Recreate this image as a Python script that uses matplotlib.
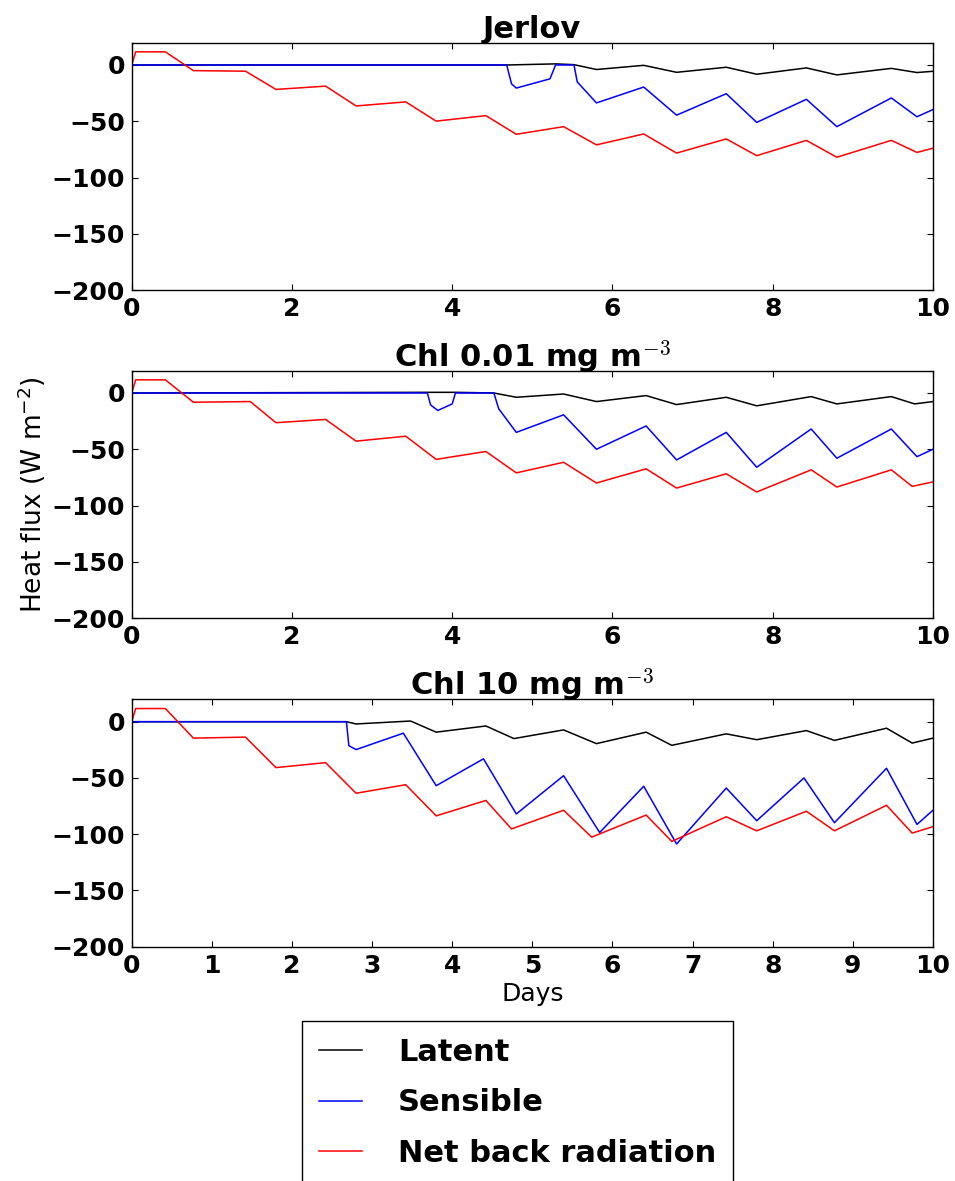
import matplotlib
matplotlib.use('agg')
import matplotlib.pyplot as plt
from matplotlib.lines import Line2D

plt.rcParams['font.family'] = ['DejaVu Sans']
plt.rcParams['mathtext.fontset'] = 'cm'

# ---------------- data ----------------
# Panel 1: Jerlov
jer_lat_day = [0, 4.68, 5.29, 5.52, 5.8, 6.39, 6.8, 7.42, 7.8, 8.42, 8.8, 9.48, 9.8, 10]
jer_lat_val = [0, 0, 1.0, 0.3, -4.0, -0.3, -6.5, -2.0, -8.2, -2.6, -8.8, -3.0, -6.7, -5.6]

jer_sen_day = [0, 4.68, 4.74, 4.8, 5.22, 5.29, 5.52, 5.56, 5.8, 6.39, 6.8, 7.42, 7.8, 8.42, 8.8, 9.48, 9.8, 10]
jer_sen_val = [0, 0, -16.7, -20.5, -12.3, 0, 0, -15.0, -33.7, -19.6, -44.6, -25.5, -51.0, -30.5, -54.8, -29.3, -46.0, -39.6]

jer_net_day = [0, 0.05, 0.42, 0.77, 1.42, 1.8, 2.42, 2.8, 3.42, 3.8, 4.42, 4.8, 5.39, 5.8, 6.39, 6.8, 7.42, 7.8, 8.42, 8.8, 9.48, 9.8, 10]
jer_net_val = [0, 11.7, 11.7, -5.0, -5.5, -21.7, -18.8, -36.4, -32.8, -49.9, -45.0, -61.6, -54.8, -71.0, -61.3, -78.3, -65.7, -80.6, -67.0, -82.0, -67.0, -77.7, -74.0]

# Panel 2: Chl 0.01
c01_lat_day = [0, 3.69, 4.04, 4.52, 4.8, 5.39, 5.8, 6.42, 6.8, 7.42, 7.8, 8.48, 8.8, 9.48, 9.77, 10]
c01_lat_val = [0, 0.6, 0.6, 0, -3.8, -0.9, -7.6, -2.3, -10.3, -3.8, -11.4, -3.2, -9.7, -3.2, -9.7, -7.6]

c01_sen_day = [0, 3.69, 3.73, 3.82, 4.0, 4.04, 4.52, 4.58, 4.8, 5.39, 5.8, 6.42, 6.8, 7.42, 7.8, 8.48, 8.8, 9.48, 9.8, 10]
c01_sen_val = [0, 0, -10.6, -15.5, -9.7, 0, 0, -14.0, -35.0, -19.4, -50.0, -29.3, -59.5, -35.0, -66.0, -32.0, -58.0, -32.0, -56.6, -50.0]

c01_net_day = [0, 0.05, 0.42, 0.77, 1.48, 1.8, 2.42, 2.8, 3.42, 3.8, 4.42, 4.8, 5.39, 5.8, 6.42, 6.8, 7.42, 7.8, 8.48, 8.8, 9.48, 9.74, 10]
c01_net_val = [0, 11.7, 11.7, -8.2, -7.6, -26.4, -23.5, -42.8, -38.4, -59.0, -52.0, -71.0, -61.6, -80.0, -67.4, -84.5, -71.8, -88.0, -68.3, -83.6, -68.3, -83.0, -79.0]

# Panel 3: Chl 10
c10_lat_day = [0, 2.68, 2.8, 3.48, 3.8, 4.42, 4.77, 5.39, 5.8, 6.42, 6.74, 7.42, 7.8, 8.42, 8.77, 9.42, 9.74, 10]
c10_lat_val = [0, 0, -2.0, 0.6, -9.3, -3.8, -15.0, -7.3, -19.5, -9.3, -21.0, -10.8, -16.0, -7.9, -16.6, -5.8, -19.0, -14.6]

c10_sen_day = [0, 2.68, 2.71, 2.8, 3.39, 3.8, 4.39, 4.8, 5.39, 5.84, 6.39, 6.8, 7.42, 7.8, 8.39, 8.77, 9.42, 9.8, 10]
c10_sen_val = [0, 0, -21.3, -24.8, -10.2, -56.9, -33.0, -82.0, -48.0, -98.5, -57.4, -108.7, -59.0, -88.0, -50.0, -89.8, -41.4, -91.3, -78.7]

c10_net_day = [0, 0.05, 0.42, 0.77, 1.42, 1.8, 2.42, 2.8, 3.42, 3.8, 4.42, 4.74, 5.39, 5.74, 6.42, 6.74, 7.42, 7.8, 8.42, 8.77, 9.42, 9.74, 10]
c10_net_val = [0, 11.7, 11.7, -14.6, -13.7, -40.8, -36.4, -63.6, -56.0, -83.7, -70.0, -95.3, -78.7, -102.6, -83.0, -106.4, -84.5, -97.0, -79.6, -97.0, -74.3, -99.0, -93.3]

titles = ['Jerlov', 'Chl 0.01 mg m$^{-3}$', 'Chl 10 mg m$^{-3}$']
series_names = ['Latent', 'Sensible', 'Net back radiation']
series_colours = ['k', 'b', 'r']

panels = [
    [(jer_lat_day, jer_lat_val), (jer_sen_day, jer_sen_val), (jer_net_day, jer_net_val)],
    [(c01_lat_day, c01_lat_val), (c01_sen_day, c01_sen_val), (c01_net_day, c01_net_val)],
    [(c10_lat_day, c10_lat_val), (c10_sen_day, c10_sen_val), (c10_net_day, c10_net_val)],
]
xtick_sets = [list(range(0, 11, 2)), list(range(0, 11, 2)), list(range(0, 11))]
yticks = [0, -50, -100, -150, -200]

# ---------------- figure ----------------
fig = plt.figure(figsize=(9.55, 11.81), dpi=100)
ax_left = 131.7 / 955
ax_width = (933 - 131.7) / 955
ax_height = 247.5 / 1181
bottoms = [1 - 290 / 1181, 1 - 618 / 1181, 1 - 946.7 / 1181]

axes = []
for i in range(3):
    ax = fig.add_axes([ax_left, bottoms[i], ax_width, ax_height])
    for (days, vals), col in zip(panels[i], series_colours):
        ax.plot(days, vals, color=col, lw=1.1)
    ax.set_xlim(0, 10)
    ax.set_ylim(-200, 20)
    ax.set_xticks(xtick_sets[i])
    ax.set_yticks(yticks)
    ax.tick_params(direction='in', top=True, right=True, length=4, width=0.8,
                   labelsize=18, pad=5)
    for lab in ax.get_xticklabels() + ax.get_yticklabels():
        lab.set_fontweight('bold')
    for sp in ax.spines.values():
        sp.set_linewidth(1.0)
    ax.set_title(titles[i], fontsize=22, fontweight='bold', pad=3)
    axes.append(ax)

axes[1].set_ylabel('Heat flux (W m$^{-2}$)', fontsize=19, labelpad=2,
                   math_fontfamily='dejavusans')
axes[2].set_xlabel('Days', fontsize=18, labelpad=3)

handles = [Line2D([], [], color=c, lw=1.1) for c in series_colours]
fig.legend(handles, series_names, loc='upper left',
           bbox_to_anchor=(302 / 955, 1 - 1021 / 1181), borderaxespad=0,
           prop={'weight': 'bold', 'size': 22}, fancybox=False, framealpha=1,
           edgecolor='k', handlelength=1.4, handletextpad=1.2, borderpad=0.55,
           labelspacing=0.7)

plt.savefig('out.png', dpi=100)
plt.close()
